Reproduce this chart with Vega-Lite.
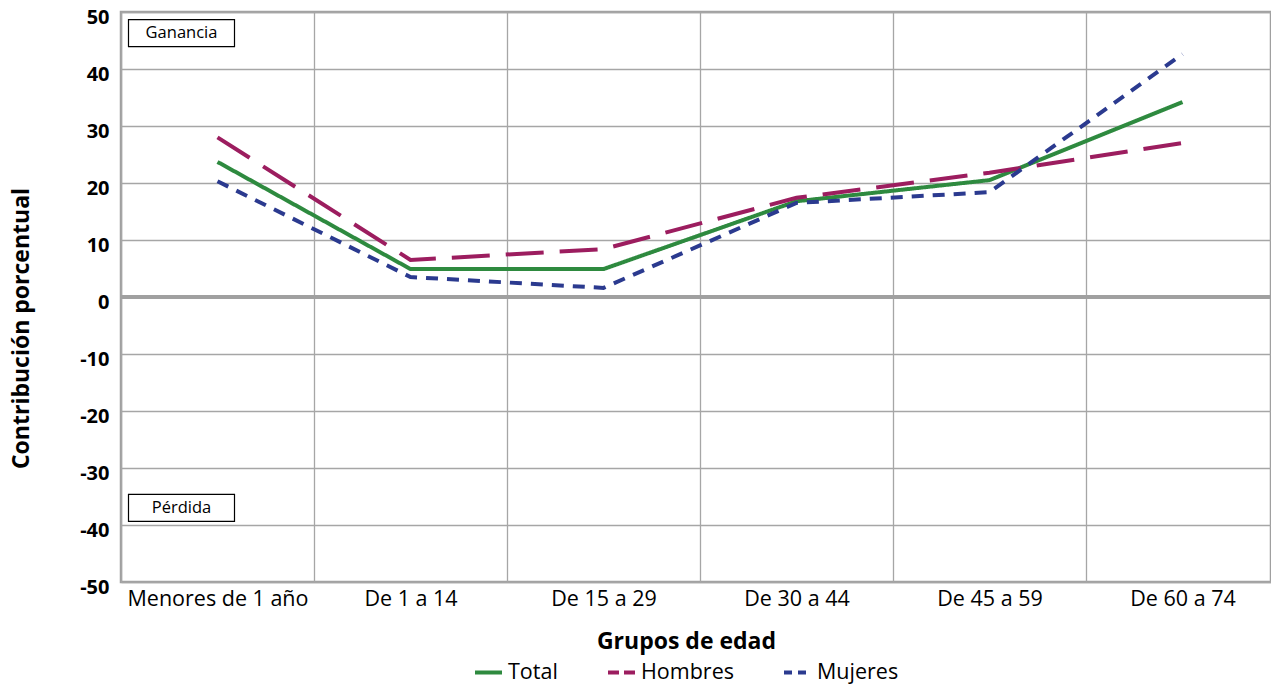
{
  "$schema": "https://vega.github.io/schema/vega-lite/v6.json",
  "autosize": "none",
  "padding": {"left": 121, "top": 12, "right": 0, "bottom": 103},
  "width": 1150,
  "height": 570,
  "background": "white",
  "config": {
    "font": "Open Sans",
    "view": {"stroke": "#a0a0a0", "strokeWidth": 2.5}
  },
  "datasets": {
    "series": [
      {"grupo": "Menores de 1 año", "serie": "Total", "valor": 23.7},
      {"grupo": "De 1 a 14", "serie": "Total", "valor": 4.9},
      {"grupo": "De 15 a 29", "serie": "Total", "valor": 4.9},
      {"grupo": "De 30 a 44", "serie": "Total", "valor": 16.8},
      {"grupo": "De 45 a 59", "serie": "Total", "valor": 20.5},
      {"grupo": "De 60 a 74", "serie": "Total", "valor": 34.2},
      {"grupo": "Menores de 1 año", "serie": "Hombres", "valor": 28.0},
      {"grupo": "De 1 a 14", "serie": "Hombres", "valor": 6.5},
      {"grupo": "De 15 a 29", "serie": "Hombres", "valor": 8.4},
      {"grupo": "De 30 a 44", "serie": "Hombres", "valor": 17.4},
      {"grupo": "De 45 a 59", "serie": "Hombres", "valor": 21.8},
      {"grupo": "De 60 a 74", "serie": "Hombres", "valor": 27.0},
      {"grupo": "Menores de 1 año", "serie": "Mujeres", "valor": 20.3},
      {"grupo": "De 1 a 14", "serie": "Mujeres", "valor": 3.5},
      {"grupo": "De 15 a 29", "serie": "Mujeres", "valor": 1.6},
      {"grupo": "De 30 a 44", "serie": "Mujeres", "valor": 16.5},
      {"grupo": "De 45 a 59", "serie": "Mujeres", "valor": 18.4},
      {"grupo": "De 60 a 74", "serie": "Mujeres", "valor": 42.6}
    ],
    "notas": [
      {"grupo": "Menores de 1 año", "texto": "Ganancia", "y": 46.3},
      {"grupo": "Menores de 1 año", "texto": "Pérdida", "y": -37.0}
    ]
  },
  "encoding": {
    "x": {
      "field": "grupo",
      "type": "nominal",
      "scale": {
        "domain": ["Menores de 1 año", "De 1 a 14", "De 15 a 29", "De 30 a 44", "De 45 a 59", "De 60 a 74"],
        "range": [0, 1158],
        "padding": 0
      },
      "axis": {
        "title": "Grupos de edad",
        "titleFontSize": 23,
        "titleFontWeight": "bold",
        "titleColor": "#000",
        "titlePadding": 21,
        "titleX": 565,
        "labelAngle": 0,
        "labelFontSize": 21.5,
        "labelColor": "#000",
        "labelPadding": 6,
        "labelLimit": 400,
        "ticks": false,
        "domain": false,
        "grid": true,
        "tickBand": "extent",
        "gridColor": "#a6a6a6",
        "gridWidth": 1.3
      }
    }
  },
  "layer": [
    {
      "data": {"name": "series"},
      "mark": {"type": "rule"},
      "encoding": {
        "x": null,
        "y": {"datum": 0, "type": "quantitative"},
        "color": {"value": "#a0a0a0"},
        "strokeWidth": {"value": 3.5}
      }
    },
    {
      "data": {"name": "series"},
      "mark": {"type": "line", "strokeWidth": 4, "strokeCap": "butt"},
      "encoding": {
        "y": {
          "field": "valor",
          "type": "quantitative",
          "scale": {"domain": [-50, 50]},
          "axis": {
            "title": "Contribución porcentual",
            "titleFontSize": 23,
            "titleFontWeight": "bold",
            "titleColor": "#000",
            "titlePadding": 46,
            "titleY": 316,
            "values": [-50, -40, -30, -20, -10, 0, 10, 20, 30, 40, 50],
            "labelExpr": "replace(datum.label, '−', '-')",
            "labelFontSize": 20,
            "labelFontWeight": "bold",
            "labelColor": "#000",
            "labelPadding": 12,
            "labelOffset": 5,
            "ticks": false,
            "domain": false,
            "grid": true,
            "gridColor": "#a6a6a6",
            "gridWidth": 1.3
          }
        },
        "color": {
          "field": "serie",
          "type": "nominal",
          "scale": {
            "domain": ["Total", "Hombres", "Mujeres"],
            "range": ["#2e8a3f", "#9c1d5f", "#2b3a8f"]
          },
          "legend": {
            "title": null,
            "orient": "none",
            "direction": "horizontal",
            "legendX": 352,
            "legendY": 645,
            "symbolType": "stroke",
            "symbolSize": 729,
            "symbolStrokeWidth": 4,
            "labelFontSize": 21.5,
            "labelColor": "#000",
            "labelOffset": 4,
            "columnPadding": 42,
            "encode": {
              "symbols": {
                "update": {
                  "strokeDash": {"signal": "datum.value === 'Hombres' ? [11, 5] : datum.value === 'Mujeres' ? [8, 6] : [1, 0]"}
                }
              }
            }
          }
        },
        "strokeDash": {
          "condition": [
            {"test": "datum.serie === 'Hombres'", "value": [38, 16]},
            {"test": "datum.serie === 'Mujeres'", "value": [12, 9]}
          ],
          "value": [1, 0]
        }
      }
    },
    {
      "data": {"name": "notas"},
      "mark": {
        "type": "point",
        "shape": "M-1,-0.255H1V0.255H-1Z",
        "size": 11236,
        "filled": false,
        "stroke": "#000",
        "strokeWidth": 1.2,
        "opacity": 1,
        "xOffset": -36
      },
      "encoding": {
        "y": {"field": "y", "type": "quantitative"}
      }
    },
    {
      "data": {"name": "notas"},
      "mark": {"type": "text", "fontSize": 16.5, "color": "#000", "xOffset": -36, "baseline": "middle", "align": "center"},
      "encoding": {
        "y": {"field": "y", "type": "quantitative"},
        "text": {"field": "texto"}
      }
    }
  ]
}
